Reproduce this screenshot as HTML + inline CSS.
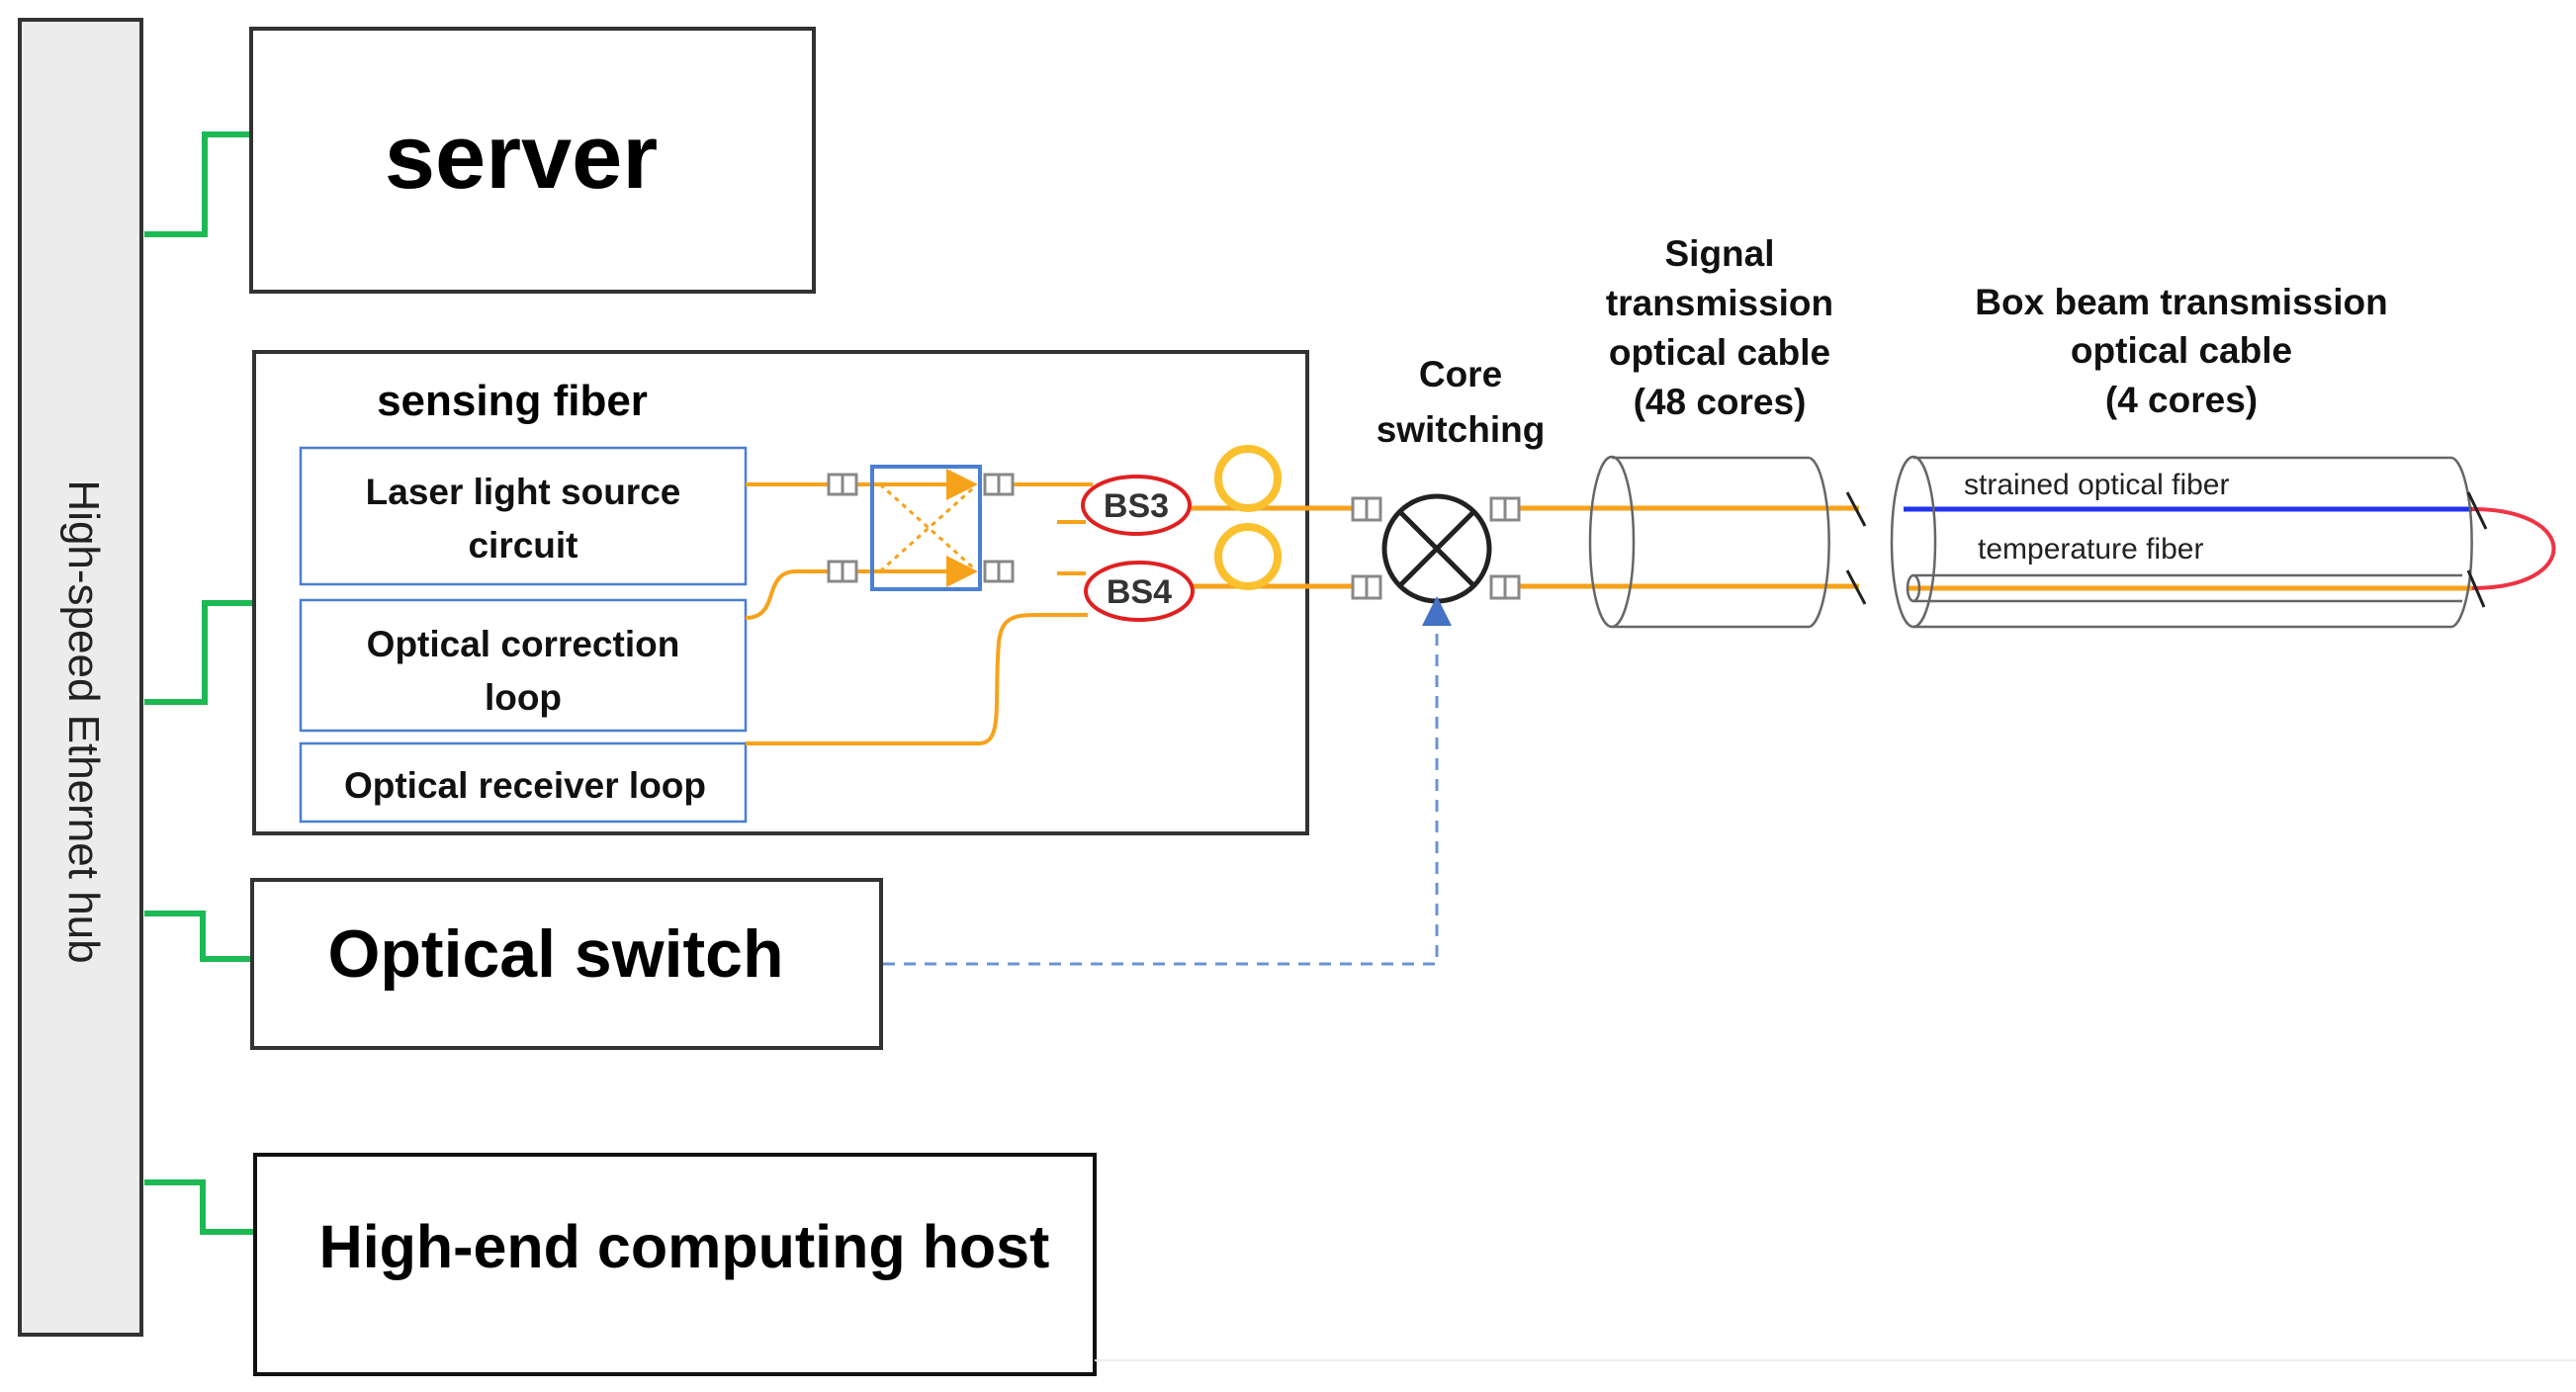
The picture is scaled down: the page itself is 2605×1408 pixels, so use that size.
<!DOCTYPE html>
<html><head><meta charset="utf-8"><style>
html,body{margin:0;padding:0;background:#fff;}
svg{display:block;font-family:"Liberation Sans",sans-serif;}
</style></head><body>
<svg width="2605" height="1408" viewBox="0 0 2605 1408" xmlns="http://www.w3.org/2000/svg">
<defs>
<marker id="ar" markerWidth="10" markerHeight="10" refX="5" refY="5" orient="auto"><path d="M0,0 L10,5 L0,10 z" fill="#4472c4"/></marker>
<marker id="oa" markerWidth="8" markerHeight="8" refX="7" refY="4" orient="auto"><path d="M0,0 L8,4 L0,8 z" fill="#f7a21b"/></marker>
</defs>
<rect x="20" y="20" width="123" height="1330" fill="#ececec" stroke="#333" stroke-width="4"/>
<text transform="translate(70,730) rotate(90)" text-anchor="middle" font-size="44" fill="#222">High-speed Ethernet hub</text>
<g fill="none" stroke="#1db954" stroke-width="6">
<polyline points="146,237 207,237 207,136 256,136"/>
<polyline points="146,710 207,710 207,610 258,610"/>
<polyline points="146,924 205,924 205,970 256,970"/>
<polyline points="146,1196 205,1196 205,1246 258,1246"/>
</g>
<rect x="254" y="29" width="569" height="266" fill="#fff" stroke="#333" stroke-width="4"/>
<text x="527" y="190" text-anchor="middle" font-size="92" font-weight="bold">server</text>
<rect x="257" y="356" width="1065" height="487" fill="#fff" stroke="#333" stroke-width="4"/>
<text x="518" y="420" text-anchor="middle" font-size="44" font-weight="bold">sensing fiber</text>
<g fill="#fff" stroke="#4a7fd4" stroke-width="2.5">
<rect x="304" y="453" width="450" height="138"/>
<rect x="304" y="607" width="450" height="132"/>
<rect x="304" y="752" width="450" height="79"/>
</g>
<g font-size="37" text-anchor="middle" font-weight="bold" fill="#111">
<text x="529" y="510">Laser light source</text>
<text x="529" y="564">circuit</text>
<text x="529" y="664">Optical correction</text>
<text x="529" y="718">loop</text>
<text x="531" y="807">Optical receiver loop</text>
</g>
<g fill="none" stroke="#f7a21b" stroke-width="4">
<line x1="754" y1="490" x2="845" y2="490"/>
<path d="M754,625 C790,625 770,578 805,578 L845,578"/>
<path d="M754,752 L990,752 C1015,752 1005,710 1010,650 C1013,620 1030,622 1060,622 L1100,622"/>
<line x1="858" y1="490" x2="985" y2="490" marker-end="url(#oa)"/>
<line x1="858" y1="578" x2="985" y2="578" marker-end="url(#oa)"/>
<line x1="1018" y1="490" x2="1105" y2="490"/>
<line x1="1069" y1="528" x2="1098" y2="528"/>
<line x1="1069" y1="580" x2="1098" y2="580"/>
</g>
<g fill="none" stroke="#f7a21b" stroke-width="3" stroke-dasharray="5,5">
<line x1="890" y1="490" x2="985" y2="575"/>
<line x1="890" y1="578" x2="985" y2="493"/>
</g>
<rect x="882" y="472" width="109" height="124" fill="none" stroke="#4a7fd4" stroke-width="4"/>
<g fill="#fff" stroke="#888" stroke-width="3">
<rect x="838" y="480" width="28" height="20"/><line x1="852" y1="480" x2="852" y2="500"/>
<rect x="838" y="568" width="28" height="20"/><line x1="852" y1="568" x2="852" y2="588"/>
<rect x="996" y="480" width="28" height="20"/><line x1="1010" y1="480" x2="1010" y2="500"/>
<rect x="996" y="568" width="28" height="20"/><line x1="1010" y1="568" x2="1010" y2="588"/>
</g>
<g fill="none" stroke="#f7a21b" stroke-width="5">
<line x1="1195" y1="514" x2="1382" y2="514"/>
<line x1="1195" y1="593" x2="1382" y2="593"/>
<line x1="1520" y1="514" x2="1880" y2="514"/>
<line x1="1520" y1="593" x2="1880" y2="593"/>
<line x1="1930" y1="595" x2="2500" y2="595"/>
<circle cx="1262" cy="484" r="30" stroke-width="8" stroke="#fbc02d"/>
<circle cx="1262" cy="563" r="30" stroke-width="8" stroke="#fbc02d"/>
</g>
<line x1="1925" y1="515" x2="2500" y2="515" stroke="#2233ee" stroke-width="5"/>
<g fill="#fff" stroke="#e02020" stroke-width="4">
<ellipse cx="1149" cy="511" rx="54" ry="29"/>
<ellipse cx="1152" cy="598" rx="54" ry="29"/>
</g>
<g font-size="34" text-anchor="middle" font-weight="bold" fill="#333">
<text x="1149" y="523">BS3</text>
<text x="1152" y="610">BS4</text>
</g>
<g fill="#fff" stroke="#888" stroke-width="3">
<rect x="1368" y="504" width="28" height="22"/><line x1="1382" y1="504" x2="1382" y2="526"/>
<rect x="1368" y="583" width="28" height="22"/><line x1="1382" y1="583" x2="1382" y2="605"/>
<rect x="1508" y="504" width="28" height="22"/><line x1="1522" y1="504" x2="1522" y2="526"/>
<rect x="1508" y="583" width="28" height="22"/><line x1="1522" y1="583" x2="1522" y2="605"/>
</g>
<circle cx="1453" cy="555" r="53" fill="#fff" stroke="#222" stroke-width="5"/>
<line x1="1416" y1="518" x2="1490" y2="592" stroke="#222" stroke-width="5"/>
<line x1="1490" y1="518" x2="1416" y2="592" stroke="#222" stroke-width="5"/>
<g font-size="37" text-anchor="middle" font-weight="bold" fill="#111">
<text x="1477" y="391">Core</text>
<text x="1477" y="447">switching</text>
<text x="1739" y="269">Signal</text>
<text x="1739" y="319">transmission</text>
<text x="1739" y="369">optical cable</text>
<text x="1739" y="419">(48 cores)</text>
<text x="2206" y="318">Box beam transmission</text>
<text x="2206" y="367">optical cable</text>
<text x="2206" y="417">(4 cores)</text>
</g>
<g fill="none" stroke="#666" stroke-width="2.5">
<path d="M1630,463 L1830,463 M1630,634 L1830,634"/>
<ellipse cx="1630" cy="548" rx="22" ry="86"/>
<path d="M1830,463 A22,86 0 0 1 1830,634"/>
<path d="M1935,463 L2480,463 M1935,634 L2480,634"/>
<ellipse cx="1935" cy="548" rx="22" ry="86"/>
<path d="M2480,463 A22,86 0 0 1 2480,634"/>
<path d="M1935,582 L2490,582 M1935,608 L2490,608"/>
<ellipse cx="1935" cy="595" rx="6" ry="13"/>
</g>
<path d="M2500,515 C2610,515 2610,595 2500,595" fill="none" stroke="#ee3344" stroke-width="4"/>
<g stroke="#222" stroke-width="3">
<line x1="1868" y1="498" x2="1886" y2="532"/>
<line x1="1868" y1="577" x2="1886" y2="611"/>
<line x1="2496" y1="498" x2="2514" y2="535"/>
<line x1="2496" y1="577" x2="2512" y2="614"/>
</g>
<g font-size="30" fill="#222">
<text x="1986" y="500">strained optical fiber</text>
<text x="2000" y="565">temperature fiber</text>
</g>
<rect x="255" y="890" width="636" height="170" fill="#fff" stroke="#333" stroke-width="4"/>
<text x="562" y="988" text-anchor="middle" font-size="68" font-weight="bold">Optical switch</text>
<polyline points="893,975 1453,975 1453,618" fill="none" stroke="#6a93d4" stroke-width="3" stroke-dasharray="12,9" marker-end="url(#ar)"/>
<rect x="258" y="1168" width="849" height="222" fill="#fff" stroke="#111" stroke-width="4"/>
<text x="692" y="1282" text-anchor="middle" font-size="61" font-weight="bold">High-end computing host</text>
<line x1="1107" y1="1376" x2="2605" y2="1376" stroke="#eee" stroke-width="2"/>
</svg>
</body></html>
